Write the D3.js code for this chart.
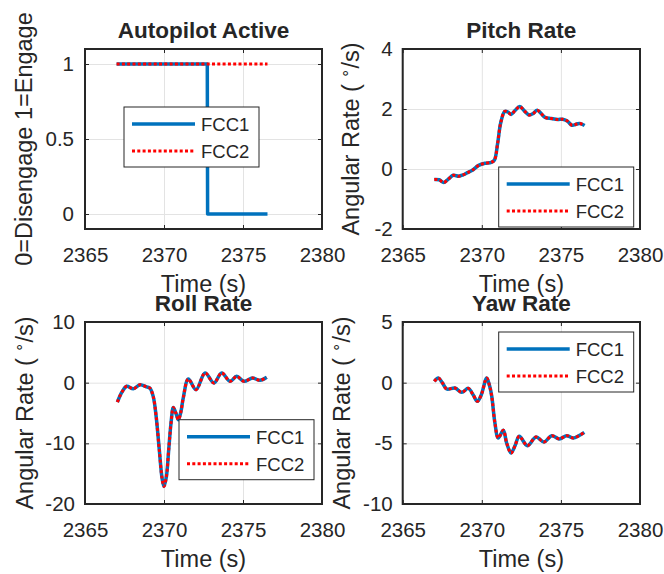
<!DOCTYPE html>
<html>
<head>
<meta charset="utf-8">
<script src="https://cdn.jsdelivr.net/npm/d3@7"></script>
<style>
  html, body { margin: 0; padding: 0; background: #fff; }
  svg { display: block; }
  text { font-family: "Liberation Sans", Arial, Helvetica, sans-serif; fill: #262626; }
</style>
</head>
<body>
<svg id="chart" width="664" height="574"></svg>
<script>
// ---- data -------------------------------------------------------------
const timeTicks = [2365, 2370, 2375, 2380];
const seriesNames = ["FCC1", "FCC2"];

// Autopilot engage status (1 = engaged, 0 = disengaged)
const apTimeFcc1 = [2367.0, 2372.74, 2372.76, 2376.55];
const apFcc1     = [1, 1, 0, 0];
const apTimeFcc2 = [2367.0, 2376.55];
const apFcc2     = [1, 1];
const apTicks    = [0, 0.5, 1];

// Pitch rate (deg/s); both flight control computers report the same trace
const pitchTime = [2367.0, 2367.3, 2367.6, 2367.9, 2368.2, 2368.55, 2368.8, 2369.1, 2369.4, 2369.8,
                   2370.2, 2370.6, 2370.8, 2371.0, 2371.2, 2371.45, 2371.65, 2371.85, 2372.1, 2372.4,
                   2372.7, 2373.0, 2373.25, 2373.5, 2373.75, 2374.0, 2374.4, 2374.8, 2375.1, 2375.4,
                   2375.7, 2376.0, 2376.2, 2376.5];
const pitchFcc1 = [-0.35, -0.36, -0.45, -0.33, -0.21, -0.24, -0.2, -0.12, -0.04, 0.12,
                   0.19, 0.22, 0.3, 0.85, 1.55, 1.92, 1.9, 1.82, 1.95, 2.08,
                   1.93, 1.8, 1.85, 1.96, 1.85, 1.72, 1.68, 1.65, 1.66, 1.6,
                   1.46, 1.5, 1.52, 1.45];
const pitchFcc2 = pitchFcc1.slice();
const pitchTicks = [-2, 0, 2, 4];

// Roll rate (deg/s)
const rollTime = [2367.05, 2367.35, 2367.64, 2368.06, 2368.48, 2368.9, 2369.11, 2369.32, 2369.5, 2369.7,
                  2369.88, 2370.0, 2370.15, 2370.3, 2370.45, 2370.59, 2370.75, 2370.91, 2371.07, 2371.22,
                  2371.54, 2372.03, 2372.6, 2373.16, 2373.65, 2374.18, 2374.6, 2375.06, 2375.6, 2376.08,
                  2376.5];
const rollFcc1 = [-3.2, -1.5, -0.6, -1.0, -0.35, -0.7, -0.9, -2.3, -5.5, -11.0,
                  -15.8, -17.1, -15.5, -11.0, -6.5, -4.1, -5.0, -6.1, -4.8, -2.5,
                  0.6, -1.15, 1.6, -0.05, 1.6, 0.22, 1.04, 0.22, 0.77, 0.38,
                  0.88];
const rollFcc2 = rollFcc1.slice();
const rollTicks = [-20, -10, 0, 10];

// Yaw rate (deg/s)
const yawTime = [2367.0, 2367.25, 2367.5, 2367.78, 2368.3, 2368.73, 2369.15, 2369.45, 2369.72, 2369.97,
                 2370.31, 2370.5, 2370.63, 2370.83, 2371.04, 2371.36, 2371.57, 2371.85, 2372.1, 2372.37,
                 2372.88, 2373.43, 2373.93, 2374.42, 2374.9, 2375.37, 2375.78, 2376.48];
const yawFcc1 = [0.11, 0.38, 0.0, -0.52, -0.44, -0.8, -0.47, -1.0, -1.54, -0.99,
                 0.38, -0.3, -1.13, -3.33, -4.56, -3.93, -4.97, -5.8, -5.2, -4.42,
                 -5.19, -4.48, -4.89, -4.37, -4.64, -4.37, -4.56, -4.1];
const yawFcc2 = yawFcc1.slice();
const yawTicks = [-10, -5, 0, 5];

// ---- styling ----------------------------------------------------------
const BLUE = "#0072BD", RED = "#FF0000", INK = "#262626", GRID = "#e3e3e3";
const TICK_FONT = 20.5, LABEL_FONT = 23.5, TITLE_FONT = 22.5, LEGEND_FONT = 18.5;

const svg = d3.select("#chart");

function panel(cfg) {
  const { left, right, top, bottom } = cfg.box;
  const x = d3.scaleLinear().domain([2365, 2380]).range([left, right]);
  const y = d3.scaleLinear().domain(cfg.yDomain).range([bottom, top]);
  const g = svg.append("g");

  // grid
  g.append("g").attr("transform", `translate(0,${bottom})`)
    .call(d3.axisBottom(x).tickValues(timeTicks).tickSize(-(bottom - top)).tickFormat(""))
    .call(a => { a.select(".domain").remove(); a.selectAll("line").attr("stroke", GRID).attr("stroke-width", 1); });
  g.append("g").attr("transform", `translate(${left},0)`)
    .call(d3.axisLeft(y).tickValues(cfg.yTicks).tickSize(-(right - left)).tickFormat(""))
    .call(a => { a.select(".domain").remove(); a.selectAll("line").attr("stroke", GRID).attr("stroke-width", 1); });

  // data lines
  const clip = "clip" + cfg.id;
  svg.append("clipPath").attr("id", clip).append("rect")
    .attr("x", left).attr("y", top).attr("width", right - left).attr("height", bottom - top);
  const plot = g.append("g").attr("clip-path", `url(#${clip})`);
  cfg.series.forEach(s => {
    const pts = s.t.map((t, i) => [t, s.v[i]]);
    const line = d3.line().x(d => x(d[0])).y(d => y(d[1]))
      .curve(cfg.step ? d3.curveLinear : d3.curveCatmullRom.alpha(0.5));
    const p = plot.append("path").datum(pts).attr("d", line)
      .attr("fill", "none").attr("stroke-linejoin", "round");
    if (s.name === "FCC1") p.attr("stroke", BLUE).attr("stroke-width", 3.5);
    else p.attr("stroke", RED).attr("stroke-width", 3).attr("stroke-dasharray", "3,2.3");
  });

  // axes with inward ticks
  const styleAxis = a => {
    a.select(".domain").remove();
    a.selectAll("line").attr("stroke", INK).attr("stroke-width", 1);
    a.selectAll("text").attr("font-size", TICK_FONT).attr("fill", INK)
      .style("font-family", '"Liberation Sans", Arial, sans-serif');
  };
  g.append("g").attr("transform", `translate(0,${bottom})`)
    .call(d3.axisBottom(x).tickValues(timeTicks).tickSize(-4).tickPadding(18).tickFormat(d3.format("d")))
    .call(styleAxis);
  g.append("g").attr("transform", `translate(0,${top})`)
    .call(d3.axisTop(x).tickValues(timeTicks).tickSize(-4).tickFormat(""))
    .call(styleAxis);
  g.append("g").attr("transform", `translate(${left},0)`)
    .call(d3.axisLeft(y).tickValues(cfg.yTicks).tickSize(-4).tickPadding(cfg.yPad).tickFormat(d => String(d)))
    .call(styleAxis);
  g.append("g").attr("transform", `translate(${right},0)`)
    .call(d3.axisRight(y).tickValues(cfg.yTicks).tickSize(-4).tickFormat(""))
    .call(styleAxis);

  // box
  g.append("rect").attr("x", left).attr("y", top).attr("width", right - left).attr("height", bottom - top)
    .attr("fill", "none").attr("stroke", INK).attr("stroke-width", 2);

  // title
  g.append("text").attr("x", (left + right) / 2).attr("y", top - 11)
    .attr("text-anchor", "middle").attr("font-size", TITLE_FONT).attr("font-weight", "bold")
    .attr("fill", "#000").text(cfg.title);

  // x label
  g.append("text").attr("x", (left + right) / 2).attr("y", bottom + 63)
    .attr("text-anchor", "middle").attr("font-size", LABEL_FONT).text("Time (s)");

  // y label
  const yl = g.append("text")
    .attr("transform", `translate(${cfg.yLabelX},${(top + bottom) / 2}) rotate(-90)`)
    .attr("text-anchor", "middle").attr("font-size", LABEL_FONT);
  if (cfg.yLabel) yl.text(cfg.yLabel);
  else {
    yl.append("tspan").text("Angular Rate ( ");
    yl.append("tspan").attr("font-size", 15).attr("dy", -9).text("\u2218");
    yl.append("tspan").attr("dy", 9).text("/s)");
  }

  // legend
  const L = cfg.legend;
  const lg = g.append("g").attr("transform", `translate(${L[0]},${L[1]})`);
  lg.append("rect").attr("width", 135).attr("height", 60)
    .attr("fill", "#fff").attr("stroke", INK).attr("stroke-width", 1);
  seriesNames.forEach((name, i) => {
    const ry = 17 + i * 27;
    const ln = lg.append("line").attr("x1", 8).attr("x2", 71).attr("y1", ry).attr("y2", ry);
    if (name === "FCC1") ln.attr("stroke", BLUE).attr("stroke-width", 3.5);
    else ln.attr("stroke", RED).attr("stroke-width", 3).attr("stroke-dasharray", "3,2.3");
    lg.append("text").attr("x", 77).attr("y", ry + 7).attr("font-size", LEGEND_FONT).text(name);
  });
}

panel({
  id: "ap", title: "Autopilot Active", box: { left: 85, right: 322, top: 49, bottom: 229 },
  yDomain: [-0.1, 1.1], yTicks: apTicks, yPad: 11, yLabelX: 32,
  yLabel: "0=Disengage 1=Engage", step: true, legend: [124, 107],
  series: [{ name: "FCC1", t: apTimeFcc1, v: apFcc1 }, { name: "FCC2", t: apTimeFcc2, v: apFcc2 }]
});
panel({
  id: "pitch", title: "Pitch Rate", box: { left: 402.7, right: 640, top: 49, bottom: 229 },
  yDomain: [-2, 4], yTicks: pitchTicks, yPad: 10, yLabelX: 358.5, legend: [498.7, 167],
  series: [{ name: "FCC1", t: pitchTime, v: pitchFcc1 }, { name: "FCC2", t: pitchTime, v: pitchFcc2 }]
});
panel({
  id: "roll", title: "Roll Rate", box: { left: 85, right: 322, top: 322, bottom: 504 },
  yDomain: [-20, 10], yTicks: rollTicks, yPad: 10, yLabelX: 33, legend: [179, 419.7],
  series: [{ name: "FCC1", t: rollTime, v: rollFcc1 }, { name: "FCC2", t: rollTime, v: rollFcc2 }]
});
panel({
  id: "yaw", title: "Yaw Rate", box: { left: 402.7, right: 640, top: 322, bottom: 504 },
  yDomain: [-10, 5], yTicks: yawTicks, yPad: 10, yLabelX: 350, legend: [498.7, 332],
  series: [{ name: "FCC1", t: yawTime, v: yawFcc1 }, { name: "FCC2", t: yawTime, v: yawFcc2 }]
});
</script>
</body>
</html>
